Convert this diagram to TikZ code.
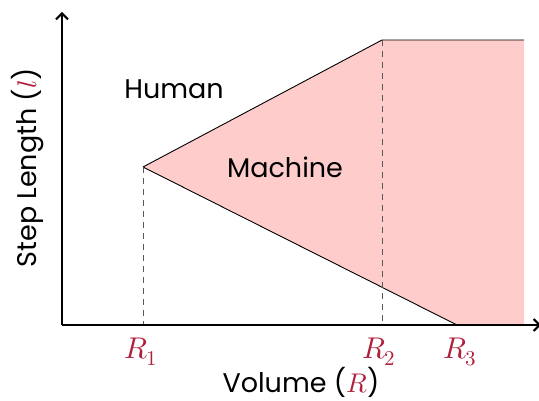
\documentclass[tikz,border=0pt]{standalone}
\usepackage{fontspec}
\setmainfont{Poppins}
\usepackage{unicode-math}
\setmathfont{Latin Modern Math}
\usetikzlibrary{arrows.meta}
\definecolor{lblred}{HTML}{B0203C}
\definecolor{fillpink}{HTML}{FFCCCC}
\tikzset{
  axisline/.style={line width=2.4pt,-{Straight Barb[length=6pt,width=12pt,line width=2pt]}},
  thinline/.style={line width=0.9pt,black},
  guide/.style={line width=1pt,dash pattern=on 6pt off 5pt,black!65},
  txt/.style={font=\fontsize{27}{32}\selectfont,inner sep=0pt},
  mlbl/.style={font=\fontsize{30}{34}\selectfont,text=lblred,inner sep=0pt}
}
\begin{document}
\begin{tikzpicture}[x=1pt,y=-1pt]
\useasboundingbox (0,0) rectangle (539,401);
\coordinate (O) at (62,325);
\coordinate (P1) at (143,167);
\coordinate (P2) at (382,40);
\coordinate (P2e) at (524,40);
\coordinate (P4) at (524,325);
\coordinate (P3) at (457,325);
\coordinate (B1) at (143,325);
\coordinate (B2) at (382,325);
\coordinate (YT) at (62,12);
\coordinate (XT) at (541,325);
\fill[fillpink] (P1) -- (P2) -- (P2e) -- (P4) -- (P3) -- cycle;
\draw[thinline] (P1) -- (P2) -- (P2e);
\draw[thinline] (P1) -- (P3);
\draw[guide] (P1) -- (B1);
\draw[guide] (P2) -- (B2);
\draw[axisline] (O) -- (YT);
\draw[axisline] (O) -- (XT);
\node[mlbl] (r1) at (141,352) {$R_1$};
\node[mlbl] (r2) at (379,352) {$R_2$};
\node[mlbl] (r3) at (460,352) {$R_3$};
\node[txt] (xl) at (301,382) {Volume (\textcolor{lblred}{$R$})};
\node[txt,rotate=90] (yl) at (28,168) {Step Length (\textcolor{lblred}{$l$})};
\node[txt] (hum) at (174,89) {Human};
\node[txt] (mach) at (285,167) {Machine};
\end{tikzpicture}
\end{document}
